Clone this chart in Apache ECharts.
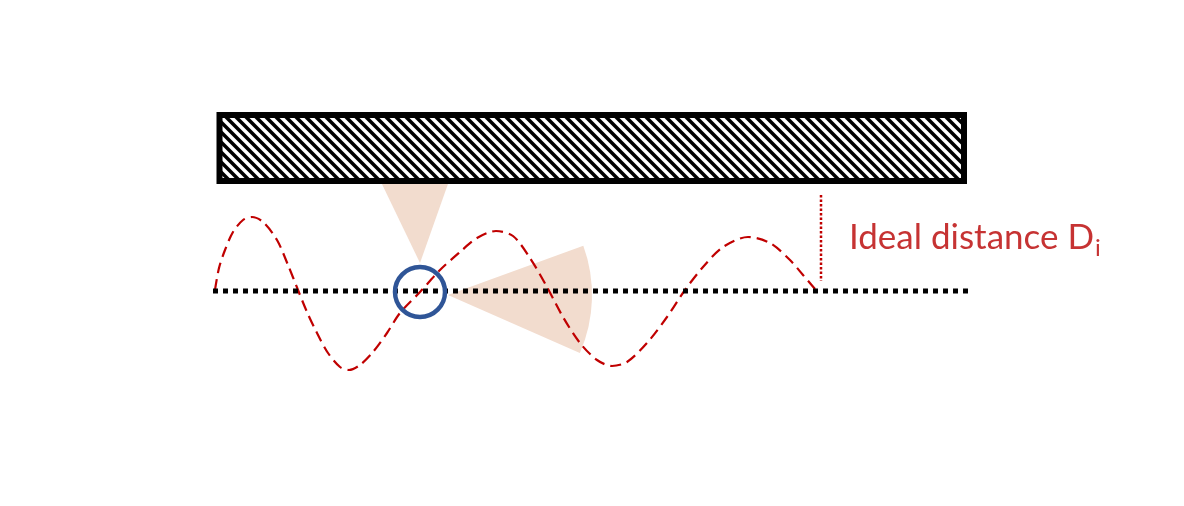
<!DOCTYPE html>
<html>
<head>
<meta charset="utf-8">
<script src="https://cdn.jsdelivr.net/npm/echarts@6/dist/echarts.min.js"></script>
<style>
  html, body { margin: 0; padding: 0; background: #ffffff; }
  #main { width: 1184px; height: 506px; }
</style>
</head>
<body>
<div id="main"></div>
<script>
// pixel-like coordinate space, y grows downwards
var wavePoints = [[215, 290], [219, 268], [225, 250], [233, 232], [243, 220], [252, 217], [263, 222],
                  [277, 240], [288, 265], [298, 290], [307, 312], [317, 333], [328, 353], [340, 367],
                  [349, 370], [360, 365], [373, 352], [387, 333], [400, 313], [420, 292], [440, 270],
                  [460, 252], [477, 238], [496, 231], [513, 236], [530, 258], [547, 287], [563, 317],
                  [580, 343], [597, 360], [612, 366], [627, 362], [647, 343], [667, 317], [685, 290],
                  [703, 267], [723, 247], [748, 237], [770, 243], [790, 260], [803, 275], [815, 289]];
var groundLine = [[213, 291], [968, 291]];
var idealMark = [[821, 195], [821, 281]];
var wallBox = [[219.5, 115], [964, 181]];
var hatchStep = 10;
// sectors: [cx, cy, r, startDeg, endDeg]
var cones = [[420, 263, 110, -115.7, -70.5], [448, 295, 144, -20, 23.7]];
var robot = [[420, 292]];
var labelPos = [849, 238];
var labelText = 'Ideal distance D';
var labelSub = 'i';

var cv = document.createElement('canvas').getContext('2d');
cv.font = '35px Lato';
var subPos = [labelPos[0] + cv.measureText(labelText).width + 1, 248];

var myChart = echarts.init(document.getElementById('main'));
myChart.setOption({
    animation: false,
    backgroundColor: '#ffffff',
    grid: { left: 0, right: 0, top: 0, bottom: 0 },
    xAxis: { type: 'value', min: 0, max: 1184, show: false },
    yAxis: { type: 'value', min: 0, max: 506, inverse: true, show: false },
    series: [
        {
            type: 'custom',
            z: 1,
            data: cones,
            renderItem: function (params, api) {
                var p = api.coord([api.value(0), api.value(1)]);
                var r = api.size([api.value(2), 0])[0];
                return {
                    type: 'sector',
                    shape: {
                        cx: p[0], cy: p[1], r0: 0, r: r,
                        startAngle: api.value(3) * Math.PI / 180,
                        endAngle: api.value(4) * Math.PI / 180,
                        clockwise: true
                    },
                    style: { fill: '#f2dcce' }
                };
            }
        },
        {
            // hatched wall
            type: 'custom',
            z: 2,
            data: [[wallBox[0][0], wallBox[0][1], wallBox[1][0], wallBox[1][1]]],
            renderItem: function (params, api) {
                var a = api.coord([api.value(0), api.value(1)]);
                var b = api.coord([api.value(2), api.value(3)]);
                var step = api.size([hatchStep, 0])[0];
                var kids = [{
                    type: 'rect',
                    shape: { x: a[0], y: a[1], width: b[0] - a[0], height: b[1] - a[1] },
                    style: { fill: '#ffffff' }
                }];
                // lines y = x + c, running down to the right
                for (var c = a[1] - b[0]; c < b[1] - a[0]; c += step) {
                    var xs = Math.max(a[0], a[1] - c), xe = Math.min(b[0], b[1] - c);
                    if (xe <= xs) continue;
                    kids.push({
                        type: 'line',
                        shape: { x1: xs, y1: xs + c, x2: xe, y2: xe + c },
                        style: { stroke: '#000000', lineWidth: 3.6 }
                    });
                }
                kids.push({
                    type: 'rect',
                    shape: { x: a[0], y: a[1], width: b[0] - a[0], height: b[1] - a[1] },
                    style: { fill: null, stroke: '#000000', lineWidth: 6 }
                });
                return { type: 'group', children: kids };
            }
        },
        {
            type: 'line',
            z: 3,
            data: wavePoints,
            smooth: 0.3,
            showSymbol: false,
            lineStyle: { color: '#c00000', width: 2.2, type: [11, 6] }
        },
        {
            type: 'line',
            z: 4,
            data: groundLine,
            showSymbol: false,
            lineStyle: { color: '#000000', width: 5, type: [5, 5], cap: 'butt' }
        },
        {
            type: 'line',
            z: 4,
            data: idealMark,
            showSymbol: false,
            lineStyle: { color: '#c00000', width: 2.5, type: [2.5, 2], cap: 'butt' }
        },
        {
            type: 'scatter',
            z: 5,
            data: robot,
            symbol: 'circle',
            symbolSize: 50,
            itemStyle: { color: 'rgba(0,0,0,0)', borderColor: '#2f5597', borderWidth: 4.5, opacity: 1 }
        },
        {
            type: 'scatter',
            z: 6,
            data: [labelPos, subPos],
            symbolSize: 0,
            label: {
                show: true,
                position: 'right',
                distance: 0,
                formatter: function (p) { return p.dataIndex === 0 ? labelText : labelSub; },
                fontFamily: 'Lato',
                fontSize: 35,
                color: '#b80000'
            },
            labelLayout: function (p) {
                return p.dataIndex === 1 ? { fontSize: 24 } : {};
            }
        }
    ]
});
</script>
</body>
</html>
